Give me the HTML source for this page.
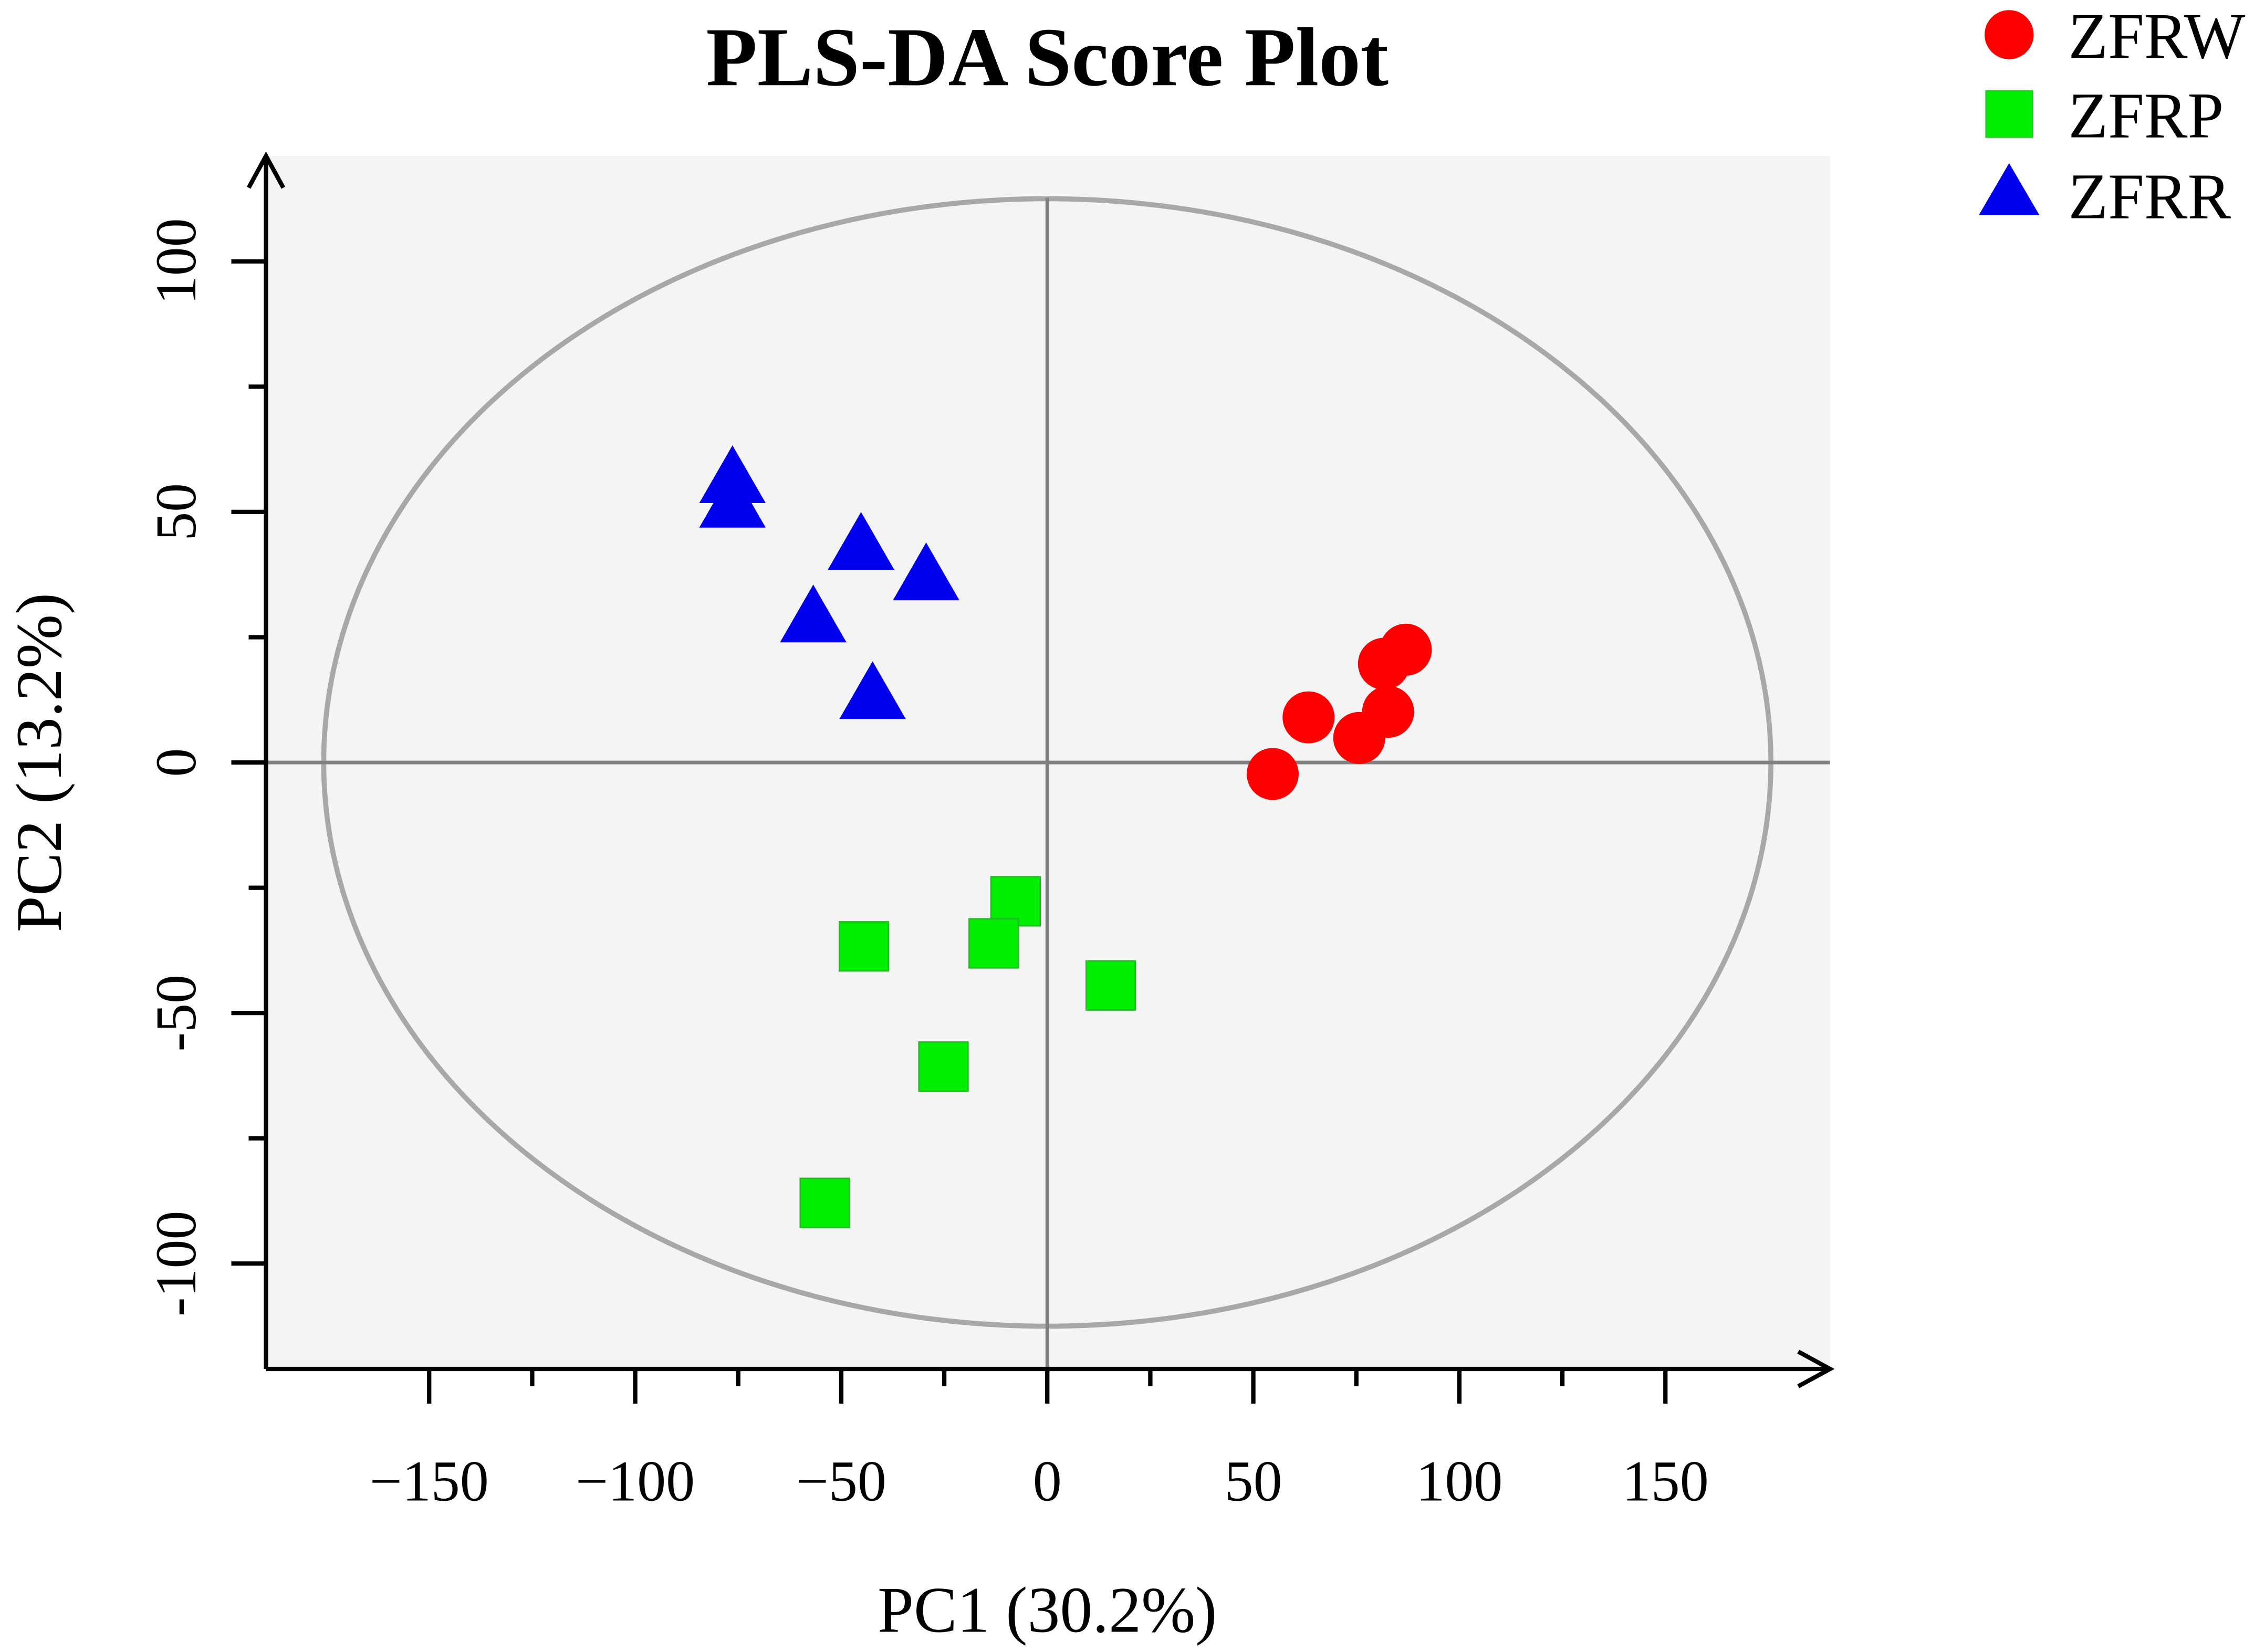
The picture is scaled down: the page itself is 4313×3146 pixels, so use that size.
<!DOCTYPE html>
<html><head><meta charset="utf-8"><style>
html,body{margin:0;padding:0;background:#fff}
svg{display:block}
text{font-family:"Liberation Serif",serif;fill:#000}
</style></head><body>
<svg id="chart" width="4313" height="3146" viewBox="0 0 1568 1144" xmlns="http://www.w3.org/2000/svg">
<rect x="185" y="108" width="1082" height="840" fill="#f4f4f4"/>
<text x="725" y="59" font-size="58" font-weight="bold" text-anchor="middle">PLS-DA Score Plot</text>
<g id="grid"></g>
<g id="axes"></g>
<g id="marks"></g>
<text x="725" y="1130" font-size="45" text-anchor="middle">PC1 (30.2%)</text>
<text x="42" y="528" font-size="45" text-anchor="middle" transform="rotate(-90 42 528)">PC2 (13.2%)</text>
<g>
<circle cx="1391" cy="24" r="17" fill="#ff0000"/>
<text x="1432" y="40" font-size="45">ZFRW</text>
<rect x="1375" y="63" width="32" height="32" fill="#00ee00" stroke="#22cc22" stroke-width="1"/>
<text x="1432" y="95" font-size="45">ZFRP</text>
<polygon points="1391,113 1412,149 1370,149" fill="#0000ee"/>
<text x="1432" y="151" font-size="45">ZFRR</text>
</g>
</svg>
<script>
const xTicks = [-150, -100, -50, 0, 50, 100, 150];
const yTicks = [-100, -50, 0, 50, 100];
const zfrwX = [54.7, 63.4, 75.7, 82.7, 81.7, 87.0];
const zfrwY = [-2.3, 9.0, 4.9, 10.1, 19.7, 22.5];
const zfrpX = [-44.5, -7.7, -13.0, 15.4, -25.2, -54.0];
const zfrpY = [-36.7, -27.7, -36.1, -44.5, -60.7, -87.9];
const zfrrX = [-76.4, -76.4, -45.2, -29.4, -56.8, -42.4];
const zfrrY = [55.8, 50.9, 42.5, 36.4, 28.0, 12.7];
const ellipseRx = 175.6, ellipseRy = 112.5;

const NS = "http://www.w3.org/2000/svg";
const sx = v => 725 + v * (428 / 150);
const sy = v => 528 - v * (347 / 100);
function mk(tag, attrs, parent) {
  const e = document.createElementNS(NS, tag);
  for (const k in attrs) e.setAttribute(k, attrs[k]);
  parent.appendChild(e);
  return e;
}
const grid = document.getElementById('grid');
const axes = document.getElementById('axes');
const marks = document.getElementById('marks');

let el = mk('ellipse', {cx: sx(0), cy: sy(0), rx: sx(ellipseRx) - sx(0), ry: sy(0) - sy(ellipseRy), fill: 'none', stroke: '#a8a8a8', 'stroke-width': 3.5}, grid);


el = mk('line', {x1: 185, x2: 1267, y1: sy(0), y2: sy(0), stroke: '#808080', 'stroke-width': 2.5}, grid);


el = mk('line', {x1: sx(0), x2: sx(0), y1: 137, y2: 948, stroke: '#808080', 'stroke-width': 2.5}, grid);



el = mk('path', {d: 'M184,948 L184,110 M172,130 L184,108 L196,130', fill: 'none', stroke: '#000', 'stroke-width': 3}, axes);


el = mk('path', {d: 'M184,948 L1265,948 M1245,936 L1267,948 L1245,960', fill: 'none', stroke: '#000', 'stroke-width': 3}, axes);



for (let v = -150; v <= 150; v += 25) {
  const major = v % 50 === 0;
  el = mk('line', {x1: sx(v), x2: sx(v), y1: 948, y2: 948 + (major ? 24 : 12), stroke: '#000', 'stroke-width': 3}, axes);
  
  
}
xTicks.forEach(v => {
  el = mk('text', {x: sx(v), y: 1039, 'font-size': 40, 'text-anchor': 'middle'}, axes);
  el.textContent = (v < 0 ? '\u2212' + Math.abs(v) : '' + v);
  
  
});
for (let v = -125; v <= 125; v += 25) {
  const major = v % 50 === 0;
  if (sy(v) < 112 || sy(v) > 946) continue;
  el = mk('line', {x1: 184 - (major ? 24 : 12), x2: 184, y1: sy(v), y2: sy(v), stroke: '#000', 'stroke-width': 3}, axes);
  
  
}
yTicks.forEach(v => {
  const x = 135, y = sy(v);
  el = mk('text', {x: x, y: y, 'font-size': 40, 'text-anchor': 'middle', transform: 'rotate(-90 ' + x + ' ' + y + ')'}, axes);
  el.textContent = (v < 0 ? '-' + Math.abs(v) : '' + v);
  
  
});

zfrpX.forEach((x, i) => {
  el = mk('rect', {x: sx(x) - 17, y: sy(zfrpY[i]) - 17, width: 34, height: 34, fill: '#00ee00', stroke: '#22bb22', 'stroke-width': 1}, marks);
  
  
});
zfrrX.forEach((x, i) => {
  const cx = sx(x), cy = sy(zfrrY[i]);
  el = mk('polygon', {points: `${cx},${cy - 26} ${cx + 23},${cy + 14} ${cx - 23},${cy + 14}`, fill: '#0000ee'}, marks);
  
  
});
zfrwX.forEach((x, i) => {
  el = mk('circle', {cx: sx(x), cy: sy(zfrwY[i]), r: 18, fill: '#ff0000'}, marks);
  
  
});
</script>
</body></html>
